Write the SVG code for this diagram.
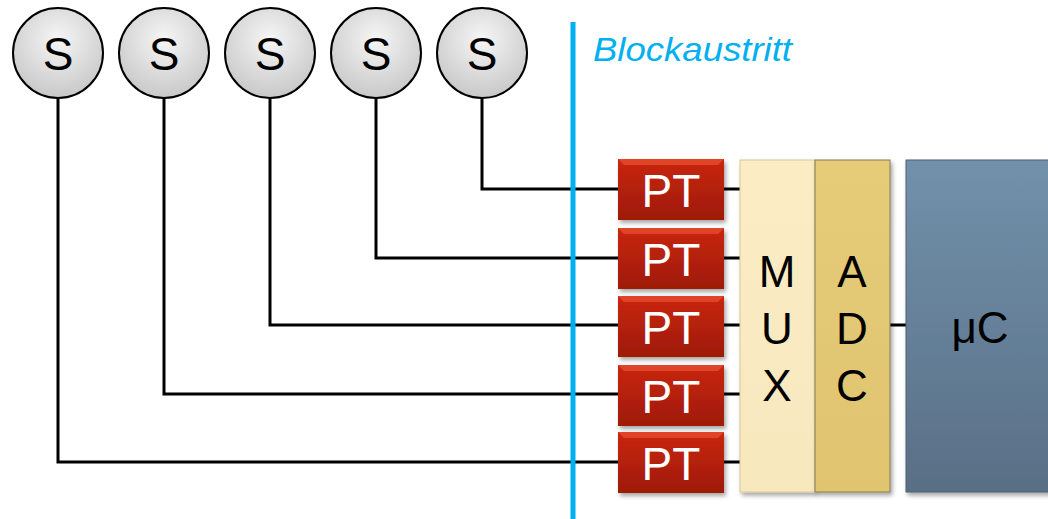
<svg xmlns="http://www.w3.org/2000/svg" width="1048" height="519" viewBox="0 0 1048 519">
<defs>
<radialGradient id="gS" cx="0.5" cy="0.35" r="0.65"><stop offset="0" stop-color="#f6f6f6"/><stop offset="1" stop-color="#c8c8c8"/></radialGradient>
<linearGradient id="gPT" x1="0" y1="0" x2="0" y2="1"><stop offset="0" stop-color="#c9260c"/><stop offset="1" stop-color="#9e1a06"/></linearGradient>
<linearGradient id="gMUX" x1="0" y1="0" x2="0" y2="1"><stop offset="0" stop-color="#fbecc4"/><stop offset="1" stop-color="#f8e8be"/></linearGradient>
<linearGradient id="gADC" x1="0" y1="0" x2="0" y2="1"><stop offset="0" stop-color="#e6cb78"/><stop offset="1" stop-color="#e0c470"/></linearGradient>
<linearGradient id="gUC" x1="0" y1="0" x2="0" y2="1"><stop offset="0" stop-color="#7291ab"/><stop offset="1" stop-color="#596f86"/></linearGradient>
<filter id="sh" x="-10%" y="-10%" width="130%" height="130%"><feDropShadow dx="2" dy="3" stdDeviation="2" flood-color="#000" flood-opacity="0.35"/></filter>
</defs>
<style>
.t{font-family:"Liberation Sans",Arial,sans-serif;}
.s{fill:url(#gS);stroke:#000;stroke-width:2;}
.st{font-size:46px;fill:#000;text-anchor:middle;}
.pt{fill:url(#gPT);filter:url(#sh);}
.bv{fill:#ff6a4a;opacity:0.45;}
.ptt{font-size:46px;fill:#fff;text-anchor:middle;}
.w{fill:none;stroke:#000;stroke-width:3;}
.blk{font-size:44px;fill:#000;text-anchor:middle;}
</style>
<g id="connectors">
<path class="w" d="M58,98 V462 H620"/>
<path class="w" d="M164,98 V394 H620"/>
<path class="w" d="M270,98 V325 H620"/>
<path class="w" d="M376,98 V258 H620"/>
<path class="w" d="M482,98 V189 H620"/>
<path class="w" d="M722,189 H742 M722,258 H742 M722,325 H742 M722,394 H742 M722,462 H742 M888,325 H908"/>
</g>
<g id="blockaustritt">
<line x1="573" y1="22" x2="573" y2="519" stroke="#00b0f0" stroke-width="5"/>
<text class="t" x="593" y="61" font-size="34" font-style="italic" fill="#00b0f0" textLength="199" lengthAdjust="spacingAndGlyphs">Blockaustritt</text>
</g>
<g id="s1"><circle class="s" cx="58" cy="53" r="45"/><text class="t st" x="58" y="70">S</text></g>
<g id="s2"><circle class="s" cx="164" cy="53" r="45"/><text class="t st" x="164" y="70">S</text></g>
<g id="s3"><circle class="s" cx="270" cy="53" r="45"/><text class="t st" x="270" y="70">S</text></g>
<g id="s4"><circle class="s" cx="376" cy="53" r="45"/><text class="t st" x="376" y="70">S</text></g>
<g id="s5"><circle class="s" cx="482" cy="53" r="45"/><text class="t st" x="482" y="70">S</text></g>
<g id="pt1"><rect class="pt" x="618" y="159" width="106" height="61"/><polygon class="bv" points="618,159 724,159 718,165 624,165"/><text class="t ptt" x="671" y="207">PT</text></g>
<g id="pt2"><rect class="pt" x="618" y="228" width="106" height="61"/><polygon class="bv" points="618,228 724,228 718,234 624,234"/><text class="t ptt" x="671" y="276">PT</text></g>
<g id="pt3"><rect class="pt" x="618" y="296" width="106" height="61"/><polygon class="bv" points="618,296 724,296 718,302 624,302"/><text class="t ptt" x="671" y="344">PT</text></g>
<g id="pt4"><rect class="pt" x="618" y="365" width="106" height="61"/><polygon class="bv" points="618,365 724,365 718,371 624,371"/><text class="t ptt" x="671" y="413">PT</text></g>
<g id="pt5"><rect class="pt" x="618" y="432" width="106" height="61"/><polygon class="bv" points="618,432 724,432 718,438 624,438"/><text class="t ptt" x="671" y="480">PT</text></g>
<g id="mux"><rect x="740" y="160" width="75" height="332" fill="url(#gMUX)" stroke="#d8c89a" stroke-width="1" filter="url(#sh)"/>
<text class="t blk" x="777" y="287">M</text><text class="t blk" x="777" y="344">U</text><text class="t blk" x="777" y="401">X</text></g>
<g id="adc"><rect x="815" y="160" width="75" height="332" fill="url(#gADC)" stroke="#8a7a50" stroke-width="1" filter="url(#sh)"/>
<text class="t blk" x="852" y="287">A</text><text class="t blk" x="852" y="344">D</text><text class="t blk" x="852" y="401">C</text></g>
<g id="uc"><rect x="906" y="160" width="150" height="332" fill="url(#gUC)" stroke="#4d6177" stroke-width="1" filter="url(#sh)"/>
<text class="t blk" x="980" y="343">μC</text></g>
</svg>
